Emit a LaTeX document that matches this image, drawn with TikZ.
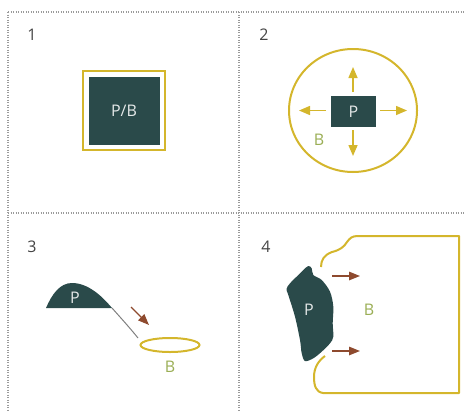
\documentclass[tikz,border=0pt]{standalone}
\usepackage{fontspec}
\setmainfont{Open Sans}
\usetikzlibrary{arrows.meta}
\definecolor{darkteal}{HTML}{2A4A4A}
\definecolor{gold}{HTML}{D4B62C}
\definecolor{rust}{HTML}{8E4A2E}
\definecolor{olive}{HTML}{9AAE55}
\definecolor{gridgray}{HTML}{9A9A9A}
\definecolor{numgray}{HTML}{444444}
\tikzset{
  grid/.style={gridgray, line width=1.2pt, dash pattern=on 1.2pt off 1.3pt},
  num/.style={text=numgray, font=\fontsize{16}{16}\selectfont, inner sep=0pt},
  ptext/.style={text=white!88!darkteal, font=\fontsize{16}{16}\selectfont, inner sep=0pt},
  btext/.style={text=olive, font=\fontsize{16}{16}\selectfont, inner sep=0pt},
  goldline/.style={gold, line width=2pt},
  goldarrow/.style={gold, line width=1.5pt, -{Triangle[length=11pt,width=9pt]}},
  rustarrow/.style={rust, line width=1.4pt, -{Triangle[length=11pt,width=8.5pt]}},
}
\begin{document}
\begin{tikzpicture}[x=1pt,y=-1pt]
\useasboundingbox (0,0) rectangle (465,410);
% grid
\coordinate (gtl) at (8,12); \coordinate (gtr) at (465,12);
\coordinate (gbl) at (8,410);
\coordinate (vmt) at (239,12); \coordinate (vmb) at (239,410);
\coordinate (hml) at (8,213); \coordinate (hmr) at (465,213);
\draw[grid] (gtl) -- (gtr);
\draw[grid] (gtl) -- (gbl);
\draw[grid] (vmt) -- (vmb);
\draw[grid] (hml) -- (hmr);
% panel 1
\node[num] (n1) at (32,35) {1};
\node[draw=gold, line width=2pt, minimum width=82pt, minimum height=79pt, inner sep=0pt] (pb1) at (124,110.5) {};
\node[fill=darkteal, minimum width=71pt, minimum height=68pt, inner sep=0pt] (pbin) at (124,110.5) {};
\node[ptext] (pbt) at (124,111) {P/B};
% panel 2
\node[num] (n2) at (264,35) {2};
\draw[goldline] (353,110.5) ellipse [x radius=64, y radius=61.5];
\node[fill=darkteal, minimum width=45pt, minimum height=31pt, inner sep=0pt] (p2) at (353.5,111) {};
\node[ptext] (p2t) at (353.5,111.5) {P};
\coordinate (up0) at (353,92); \coordinate (up1) at (353,67);
\coordinate (dn0) at (353,130); \coordinate (dn1) at (353,156);
\coordinate (lf0) at (326,110.5); \coordinate (lf1) at (299,110.5);
\coordinate (rt0) at (380,110.5); \coordinate (rt1) at (407,110.5);
\draw[goldarrow] (up0) -- (up1);
\draw[goldarrow] (dn0) -- (dn1);
\draw[goldarrow] (lf0) -- (lf1);
\draw[goldarrow] (rt0) -- (rt1);
\node[btext] (b2) at (319,140) {B};
% panel 3
\node[num] (n3) at (32,247) {3};
\coordinate (s3a) at (46,308); \coordinate (s3b) at (112,308);
\fill[darkteal] (s3a) .. controls (52,294) and (60,283) .. (72,283)
  .. controls (88,283) and (102,296) .. (s3b) -- cycle;
\coordinate (t3) at (138,338);
\draw[gray, line width=1pt] (s3b) .. controls (120,317) and (130,328) .. (t3);
\node[ptext] (p3) at (75,298) {P};
\coordinate (a3a) at (131,307); \coordinate (a3b) at (149,325);
\draw[rustarrow] (a3a) -- (a3b);
\draw[goldline] (170,345) ellipse [x radius=29.5, y radius=7];
\node[btext] (b3) at (170,367) {B};
% panel 4
\node[num] (n4) at (266,247) {4};
\draw[goldline, line join=round] (321,267) .. controls (321,260) and (324,255) .. (332,252)
  .. controls (340,250) and (344,247) .. (347,242)
  .. controls (350,238) and (352,236) .. (358,236)
  -- (459,236) -- (459,393) -- (323,393)
  .. controls (316,392) and (314,386) .. (314,377)
  .. controls (314,368) and (318,361) .. (325,356);
\fill[darkteal] plot[smooth cycle, tension=0.55] coordinates {
  (308.3,266) (311.7,268.3) (313.3,275) (321.7,280) (330,291.7) (333.3,306.7)
  (332.7,323.3) (333.3,336.7) (330,343.3) (321.7,351.7) (313.3,358.3) (305,361)
  (301.7,353.3) (300,340) (295,316.7) (288.3,295) (286.5,289) (290,283.3)
  (298.3,275) (303.3,270)};
\node[ptext] (p4) at (309,310) {P};
\coordinate (a4a) at (332,276); \coordinate (a4b) at (360,276);
\coordinate (a4c) at (332,351); \coordinate (a4d) at (360,351);
\draw[rustarrow] (a4a) -- (a4b);
\draw[rustarrow] (a4c) -- (a4d);
\node[btext] (b4) at (369,310) {B};
\end{tikzpicture}
\end{document}
